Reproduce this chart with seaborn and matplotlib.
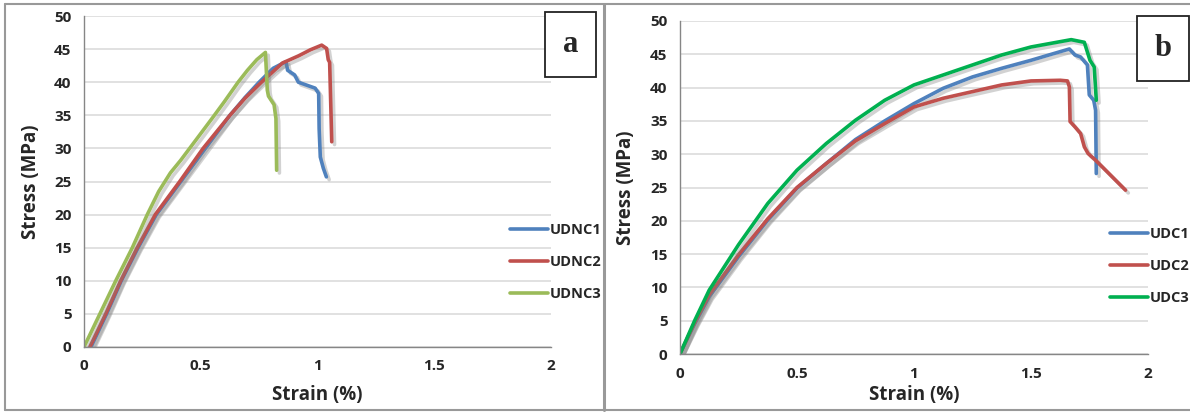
import matplotlib
matplotlib.use("Agg")
import matplotlib.pyplot as plt
import matplotlib.patheffects as pe
from matplotlib.patches import Rectangle
from matplotlib.lines import Line2D
import pandas as pd
import seaborn as sns

# panel a: non-dried samples
udnc1_strain = [0.03, 0.097, 0.16, 0.232, 0.31, 0.415, 0.52, 0.625, 0.69, 0.75, 0.81,
                0.865, 0.872, 0.902, 0.918, 0.99, 1.005, 1.007, 1.012, 1.025, 1.038]
udnc1_stress = [0, 5, 10, 15, 20, 25, 30, 35, 37.7, 40, 42.1,
                43.1, 41.8, 41.1, 40.0, 39.1, 38.3, 33, 28.7, 27.0, 25.7]
udnc2_strain = [0.025, 0.093, 0.157, 0.228, 0.305, 0.41, 0.51, 0.625, 0.69, 0.76, 0.85,
                0.92, 0.97, 1.018, 1.039, 1.046, 1.052, 1.061]
udnc2_stress = [0, 5, 10, 15, 20, 25, 30, 35, 37.6, 40, 42.9,
                44.0, 44.9, 45.6, 45.1, 43.4, 43.0, 31.0]
udnc3_strain = [0.0, 0.068, 0.136, 0.207, 0.271, 0.32, 0.37, 0.414, 0.48, 0.55, 0.60,
                0.66, 0.70, 0.74, 0.777, 0.785, 0.79, 0.814, 0.822, 0.825]
udnc3_stress = [0, 5, 10, 15, 20, 23.5, 26.3, 28.2, 31.3, 34.6, 37.0,
                40, 41.8, 43.4, 44.5, 38.8, 37.9, 36.6, 34.5, 26.7]

# panel b: dried samples
udc1_strain = [0, 0.0625, 0.125, 0.25, 0.375, 0.5, 0.625, 0.75, 0.875, 1.0, 1.125,
               1.25, 1.375, 1.5, 1.625, 1.664, 1.688, 1.712, 1.741, 1.749, 1.768,
               1.776, 1.779]
udc1_stress = [0, 4.5, 8.6, 14.6, 20.1, 24.9, 28.6, 32.2, 35.0, 37.6, 39.9,
               41.6, 42.9, 44.1, 45.4, 45.8, 44.9, 44.6, 43.4, 38.9, 38.1,
               36.6, 27.1]
udc2_strain = [0, 0.0625, 0.125, 0.25, 0.375, 0.5, 0.625, 0.75, 0.875, 1.0, 1.125,
               1.25, 1.375, 1.5, 1.625, 1.656, 1.664, 1.667, 1.688, 1.712, 1.728,
               1.744, 1.776, 1.904]
udc2_stress = [0, 4.7, 8.9, 14.9, 20.3, 25.0, 28.6, 32.0, 34.6, 37.1, 38.4,
               39.4, 40.4, 41.0, 41.1, 41.0, 40.1, 34.9, 34.1, 33.1, 31.1,
               30.1, 29.1, 24.6]
udc3_strain = [0, 0.0625, 0.125, 0.25, 0.375, 0.5, 0.625, 0.75, 0.875, 1.0, 1.125,
               1.25, 1.375, 1.5, 1.625, 1.672, 1.728, 1.752, 1.77, 1.779]
udc3_stress = [0, 5.0, 9.6, 16.4, 22.6, 27.6, 31.6, 35.1, 38.1, 40.4, 41.9,
               43.4, 44.9, 46.1, 46.9, 47.2, 46.8, 44.1, 43.1, 38.1]

x_ticks = [0, 0.5, 1, 1.5, 2]
x_labels = ["0", "0.5", "1", "1.5", "2"]
y_ticks = list(range(0, 51, 5))

BLUE, RED = "#4F81BD", "#C0504D"


def make_df(curves):
    rows = []
    for name, xs, ys in curves:
        for x, y in zip(xs, ys):
            rows.append({"sample": name, "strain": x, "stress": y})
    return pd.DataFrame(rows)


df_a = make_df([("UDNC1", udnc1_strain, udnc1_stress),
                ("UDNC2", udnc2_strain, udnc2_stress),
                ("UDNC3", udnc3_strain, udnc3_stress)])
df_b = make_df([("UDC1", udc1_strain, udc1_stress),
                ("UDC2", udc2_strain, udc2_stress),
                ("UDC3", udc3_strain, udc3_stress)])

sns.set_style("white")
plt.rcParams["font.family"] = ["Open Sans", "DejaVu Sans"]

fig = plt.figure(figsize=(11.9, 4.12), dpi=100)
W, H = 1190, 412


def px_axes(x0, x1, y0, y1):
    return fig.add_axes([x0 / W, 1 - y1 / H, (x1 - x0) / W, (y1 - y0) / H])


ax_a = px_axes(84, 551, 16, 347)
ax_b = px_axes(680, 1148, 21, 354)

shadow = [pe.SimpleLineShadow(offset=(2, -2), shadow_color="#808080", alpha=0.35),
          pe.Normal()]


def style_panel(ax, df, palette, leg_anchor, xlab_y, ylab_x):
    sns.lineplot(data=df, x="strain", y="stress", hue="sample", palette=palette,
                 sort=False, estimator=None, units="sample", lw=2.6, ax=ax,
                 legend=False)
    for ln in ax.lines:
        ln.set_path_effects(shadow)
        ln.set_solid_capstyle("round")
        ln.set_solid_joinstyle("round")
    ax.set_xlim(0, 2)
    ax.set_ylim(0, 50)
    ax.set_xticks(x_ticks)
    ax.set_xticklabels(x_labels)
    ax.set_yticks(y_ticks)
    ax.yaxis.grid(True, color="#D9D9D9", lw=1.1)
    ax.xaxis.grid(False)
    ax.set_axisbelow(True)
    for s in ["top", "right"]:
        ax.spines[s].set_visible(False)
    for s in ["left", "bottom"]:
        ax.spines[s].set_color("#868686")
        ax.spines[s].set_linewidth(1.0)
    ax.tick_params(axis="y", direction="out", length=4, color="#868686",
                   pad=5, labelsize=11)
    ax.tick_params(axis="x", direction="in", length=4, color="#868686",
                   pad=9, labelsize=11)
    for t in ax.get_xticklabels() + ax.get_yticklabels():
        t.set_fontweight("bold")
    ax.set_xlabel("Strain (%)", fontsize=13.5, fontweight="bold")
    ax.set_ylabel("Stress (MPa)", fontsize=13.5, fontweight="bold")
    ax.xaxis.set_label_coords(0.5, xlab_y)
    ax.yaxis.set_label_coords(ylab_x, 0.5)
    handles = [Line2D([], [], color=palette[k], lw=2.6) for k in palette]
    ax.legend(handles, list(palette.keys()), loc="center left",
              bbox_to_anchor=leg_anchor, frameon=False,
              prop={"weight": "bold", "size": 10.5},
              handlelength=2.6, handletextpad=0.15, labelspacing=1.25)


style_panel(ax_a, df_a, {"UDNC1": BLUE, "UDNC2": RED, "UDNC3": "#9BBB59"},
            ((497 - 84) / 467, (347 - 262) / 331), -0.115, -0.092)
style_panel(ax_b, df_b, {"UDC1": BLUE, "UDC2": RED, "UDC3": "#00B050"},
            ((1097 - 680) / 468, (354 - 266) / 333), -0.093, -0.094)


# letter boxes
def letter_box(x0, x1, y0, y1, letter):
    fig.add_artist(Rectangle((x0 / W, 1 - y1 / H), (x1 - x0) / W, (y1 - y0) / H,
                             transform=fig.transFigure, fill=True, fc="white",
                             ec="#222222", lw=1.3))
    fig.text((x0 + x1) / 2 / W, 1 - (y0 + y1) / 2 / H, letter,
             ha="center", va="center", fontsize=22, fontweight="bold",
             family="Liberation Serif")


letter_box(545, 596, 12, 77, "a")
letter_box(1137, 1189, 16, 81, "b")

# panel frames
grey = "#999999"
for xs, ys in [((5, 5), (4, 410)), ((5, 1190), (4, 4)), ((5, 1190), (410, 410)),
               ((603.5, 603.5), (4, 410))]:
    fig.add_artist(Line2D([x / W for x in xs], [1 - y / H for y in ys],
                          transform=fig.transFigure, color=grey,
                          lw=2.2 if xs[0] == 603.5 else 1.5))

fig.savefig("out.png", dpi=100)
